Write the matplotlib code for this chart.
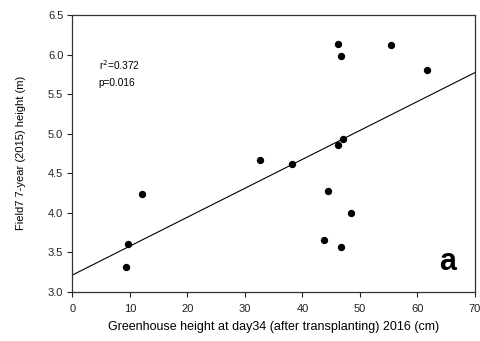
import matplotlib
matplotlib.use("Agg")
import matplotlib.pyplot as plt
import numpy as np

plt.rcParams['font.family'] = ['Liberation Sans', 'DejaVu Sans']

greenhouse_cm = [9.3, 9.6, 12.1, 32.7, 38.2, 46.2, 46.7, 55.4, 61.7, 47.1, 46.2, 44.4, 48.4, 43.7, 46.7]
field_height_m = [3.31, 3.60, 4.23, 4.66, 4.62, 6.13, 5.98, 6.12, 5.81, 4.93, 4.85, 4.28, 4.00, 3.65, 3.57]
fit_intercept = 3.21
fit_slope = 0.0366
x_ticks = [0, 10, 20, 30, 40, 50, 60, 70]
y_ticks = [3.0, 3.5, 4.0, 4.5, 5.0, 5.5, 6.0, 6.5]

fig = plt.figure(figsize=(4.8, 3.41), dpi=100)
ax = fig.add_axes([0.1506, 0.1446, 0.8390, 0.8114])

ax.scatter(greenhouse_cm, field_height_m, s=28, color='black', zorder=3, linewidths=0)
xl = np.array([0, 70])
ax.plot(xl, fit_intercept + fit_slope * xl, color='black', lw=0.8)

ax.set_xlim(0, 70)
ax.set_ylim(3.0, 6.5)
ax.set_xticks(x_ticks)
ax.set_yticks(y_ticks)
ax.set_xticklabels([str(t) for t in x_ticks])
ax.set_yticklabels([f"{t:.1f}" for t in y_ticks])
ax.tick_params(direction='out', length=3.5, width=0.8, labelsize=8, colors='#222222')
ax.tick_params(axis='x', pad=5.5)
ax.tick_params(axis='y', pad=3)
for sp in ax.spines.values():
    sp.set_linewidth(0.9)
    sp.set_color('#333333')

ax.set_xlabel('Greenhouse height at day34 (after transplanting) 2016 (cm)', fontsize=9, labelpad=5)
ax.set_ylabel('Field7 7-year (2015) height (m)', fontsize=8, labelpad=16)

ax.text(0.066, 0.819, r'r$^2$=0.372', transform=ax.transAxes, fontsize=7.3, va='center')
ax.text(0.066, 0.755, 'p=0.016', transform=ax.transAxes, fontsize=7.3, va='center')
ax.text(0.932, 0.109, 'a', transform=ax.transAxes, fontsize=22, fontweight='bold', va='center', ha='center')

fig.savefig('out.png', dpi=100)
